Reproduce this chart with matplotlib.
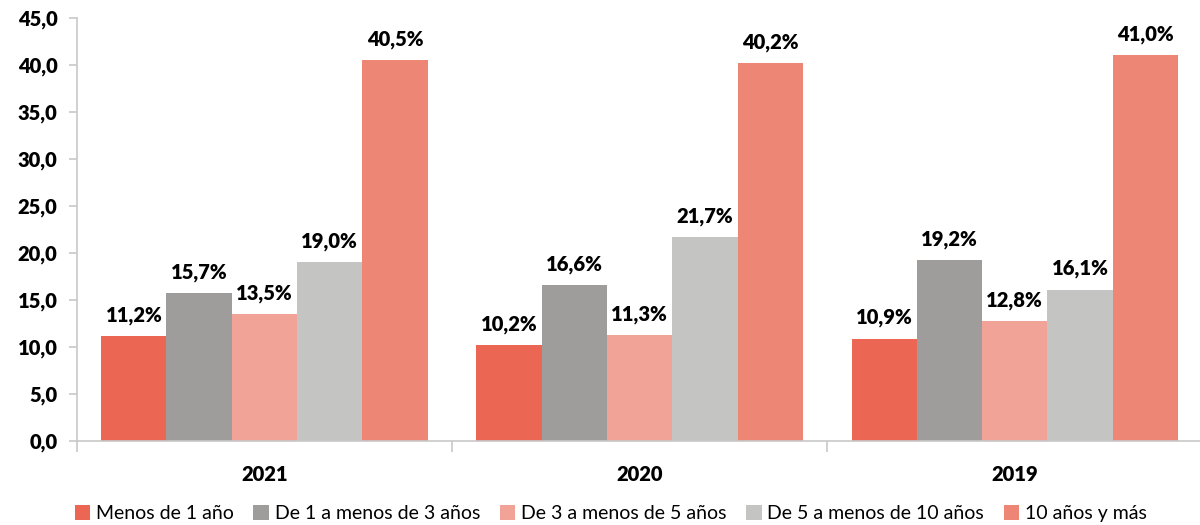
import matplotlib.pyplot as plt
import numpy as np

years = ['2021', '2020', '2019']
series = ['Menos de 1 año', 'De 1 a menos de 3 años', 'De 3 a menos de 5 años',
          'De 5 a menos de 10 años', '10 años y más']
menos_1 = [11.2, 10.2, 10.9]
de_1_3 = [15.7, 16.6, 19.2]
de_3_5 = [13.5, 11.3, 12.8]
de_5_10 = [19.0, 21.7, 16.1]
mas_10 = [40.5, 40.2, 41.0]
colors = ['#EB6753', '#9E9D9C', '#F1A397', '#C4C4C3', '#EE8675']

plt.rcParams['font.family'] = ['Lato', 'DejaVu Sans']

fig = plt.figure(figsize=(12, 5.25), dpi=100)
ax = fig.add_axes([0.064, 0.16, 0.938, 0.806])

values = [menos_1, de_1_3, de_3_5, de_5_10, mas_10]
x = np.arange(len(years))
w = 0.87 / len(series)
for i, (vals, name, c) in enumerate(zip(values, series, colors)):
    pos = x - 0.435 + w * (i + 0.5)
    bars = ax.bar(pos, vals, width=w, color=c, label=name)
    for b, v in zip(bars, vals):
        ax.annotate(f'{v:.1f}%'.replace('.', ','),
                    (b.get_x() + b.get_width() / 2, v),
                    xytext=(0, 8), textcoords='offset points',
                    ha='center', va='bottom', fontsize=14.5, fontweight='heavy')

ax.set_xlim(-0.5, 2.5)
ax.set_ylim(0, 45)
ax.set_yticks(np.arange(0, 46, 5))
ax.set_yticklabels([f'{t:.1f}'.replace('.', ',') for t in np.arange(0, 46, 5)],
                   fontsize=14.5, fontweight='heavy')
ax.set_xticks(x)
ax.set_xticklabels(years, fontsize=14.5, fontweight='heavy')
ax.tick_params(axis='x', length=0, pad=17)
ax.set_xticks([-0.5, 0.5, 1.5, 2.5], minor=True)
ax.tick_params(axis='x', which='minor', length=8, color='#C8C8C8', width=1.2)
ax.tick_params(axis='y', length=6, color='#C8C8C8', width=1.2, pad=8)

for s in ['top', 'right']:
    ax.spines[s].set_visible(False)
for s in ['left', 'bottom']:
    ax.spines[s].set_color('#C8C8C8')
    ax.spines[s].set_linewidth(1.2)

fig.legend(loc='lower center', bbox_to_anchor=(0.509, -0.028), ncol=5, frameon=False,
           fontsize=14, handlelength=0.8, handleheight=0.8, handletextpad=0.3,
           columnspacing=1.0)

fig.savefig('out.png', dpi=100)
